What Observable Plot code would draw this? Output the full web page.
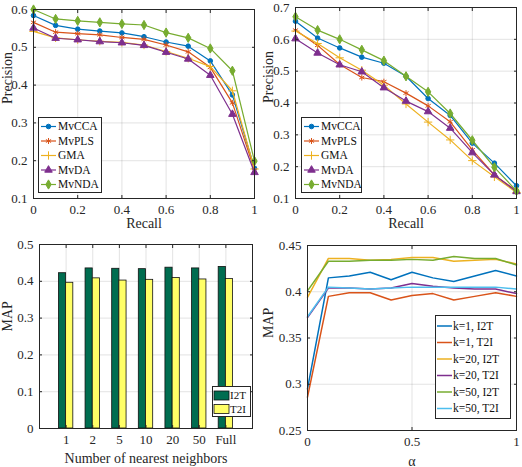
<!DOCTYPE html>
<html>
<head>
<meta charset="utf-8">
<script src="https://cdn.jsdelivr.net/npm/d3@7"></script>
<script src="https://cdn.jsdelivr.net/npm/@observablehq/plot@0.6"></script>
<style>
  body { margin: 0; background: #fff; }
  #fig { position: relative; width: 522px; height: 467px; font-family: "Liberation Serif"; }
  #fig > svg { position: absolute; overflow: visible; }
  #fig svg, #fig svg text { font-family: "Liberation Serif" !important; font-weight: normal; }
</style>
</head>
<body>
<div id="fig"></div>
<script>
// ---- Precision-recall curves ----
const recall = [0, 0.1, 0.2, 0.3, 0.4, 0.5, 0.6, 0.7, 0.8, 0.9, 1];
const methods = ["MvCCA", "MvPLS", "GMA", "MvDA", "MvNDA"];
const methodColors = ["#0072BD", "#D95319", "#EDB120", "#7E2F8E", "#77AC30"];
const methodSymbols = ["circle", "asterisk", "plus", "triangle", "diamond"];

const precA_MvCCA = [0.584, 0.558, 0.548, 0.543, 0.538, 0.528, 0.514, 0.503, 0.464, 0.374, 0.180];
const precA_MvPLS = [0.566, 0.540, 0.536, 0.533, 0.526, 0.521, 0.506, 0.488, 0.447, 0.353, 0.175];
const precA_GMA   = [0.542, 0.525, 0.520, 0.516, 0.513, 0.506, 0.489, 0.471, 0.449, 0.385, 0.178];
const precA_MvDA  = [0.551, 0.524, 0.520, 0.515, 0.512, 0.505, 0.487, 0.469, 0.426, 0.323, 0.169];
const precA_MvNDA = [0.600, 0.575, 0.570, 0.566, 0.562, 0.559, 0.539, 0.525, 0.497, 0.438, 0.199];

const precB_MvCCA = [0.657, 0.604, 0.573, 0.544, 0.525, 0.484, 0.414, 0.361, 0.274, 0.211, 0.140];
const precB_MvPLS = [0.629, 0.581, 0.521, 0.480, 0.467, 0.431, 0.391, 0.341, 0.253, 0.174, 0.124];
const precB_GMA   = [0.626, 0.587, 0.542, 0.503, 0.456, 0.397, 0.340, 0.284, 0.219, 0.168, 0.119];
const precB_MvDA  = [0.602, 0.557, 0.520, 0.498, 0.448, 0.406, 0.373, 0.321, 0.244, 0.174, 0.122];
const precB_MvNDA = [0.671, 0.629, 0.600, 0.567, 0.533, 0.484, 0.435, 0.367, 0.283, 0.198, 0.124];

// ---- MAP vs number of nearest neighbors ----
const neighborLabels = ["1", "2", "5", "10", "20", "50", "Full"];
const mapI2T = [0.422, 0.435, 0.434, 0.433, 0.437, 0.435, 0.439];
const mapT2I = [0.396, 0.408, 0.402, 0.404, 0.409, 0.405, 0.406];

// ---- MAP vs alpha ----
const alphas = [0, 0.1, 0.2, 0.3, 0.4, 0.5, 0.6, 0.7, 0.8, 0.9, 1];
const k1I2T  = [0.295, 0.415, 0.417, 0.421, 0.413, 0.421, 0.415, 0.411, 0.417, 0.423, 0.417];
const k1T2I  = [0.286, 0.395, 0.399, 0.399, 0.391, 0.396, 0.398, 0.391, 0.395, 0.399, 0.395];
const k20I2T = [0.394, 0.436, 0.436, 0.434, 0.435, 0.437, 0.437, 0.433, 0.434, 0.435, 0.430];
const k20T2I = [0.372, 0.404, 0.404, 0.403, 0.404, 0.409, 0.406, 0.404, 0.403, 0.403, 0.398];
const k50I2T = [0.401, 0.433, 0.433, 0.434, 0.434, 0.435, 0.434, 0.438, 0.436, 0.436, 0.429];
const k50T2I = [0.373, 0.405, 0.404, 0.403, 0.404, 0.405, 0.405, 0.405, 0.405, 0.405, 0.403];
const alphaSeries = ["k=1, I2T", "k=1, T2I", "k=20, I2T", "k=20, T2I", "k=50, I2T", "k=50, T2I"];
const alphaColors = ["#0072BD", "#D95319", "#EDB120", "#7E2F8E", "#77AC30", "#4DBEEE"];

const fig = document.getElementById("fig");
const FONT = "Liberation Serif";
const AXIS = "#262626";
const fmt = d => String(+(+d).toFixed(2));

const rows = (xs, ys, name) => xs.map((x, i) => ({x, y: ys[i], name}));

// One MATLAB-style axes box: inward ticks on all sides, light grid, frame.
function panel({left, top, width, height, margin, x, y, xTicks, yTicks, xFormat = fmt, yFormat = fmt,
                xLabel, yLabel, xLabelDy, yLabelDx, yLabelDy = 0, marks}) {
  const [mt, mr, mb, ml] = margin;
  const svg = Plot.plot({
    width, height,
    marginTop: mt, marginRight: mr, marginBottom: mb, marginLeft: ml,
    x, y,
    style: {fontFamily: FONT, fontSize: "13px", color: AXIS, background: "transparent", overflow: "visible"},
    marks: [
      Plot.gridX(xTicks, {stroke: AXIS, strokeOpacity: 0.13}),
      Plot.gridY(yTicks, {stroke: AXIS, strokeOpacity: 0.13}),
      ...marks,
      Plot.axisX(xTicks, {anchor: "bottom", tickSize: -3, tickPadding: 9, tickFormat: xFormat, label: null}),
      Plot.axisX(xTicks, {anchor: "top", tickSize: -3, tickFormat: () => "", label: null}),
      Plot.axisY(yTicks, {anchor: "left", tickSize: -3, tickPadding: 9, tickFormat: yFormat, label: null}),
      Plot.axisY(yTicks, {anchor: "right", tickSize: -3, tickFormat: () => "", label: null}),
      Plot.frame({stroke: AXIS, strokeWidth: 1}),
      Plot.text([xLabel], {frameAnchor: "bottom", dy: xLabelDy, lineAnchor: "bottom", fontSize: 14, fill: AXIS}),
      Plot.text([yLabel], {frameAnchor: "left", dx: yLabelDx, dy: yLabelDy, rotate: -90, fontSize: 14, fill: AXIS})
    ]
  });
  svg.style.left = left + "px";
  svg.style.top = top + "px";
  fig.appendChild(svg);
}

function prMarks(series) {
  const marks = [];
  series.forEach((vals, k) => {
    const data = rows(recall, vals, methods[k]);
    const sym = methodSymbols[k];
    const filled = sym === "circle" || sym === "triangle" || sym === "diamond";
    marks.push(Plot.line(data, {x: "x", y: "y", stroke: methodColors[k], strokeWidth: 1.2}));
    marks.push(Plot.dot(data, {x: "x", y: "y", symbol: () => sym, r: sym === "circle" ? 2.3 : 2.8,
      stroke: methodColors[k], fill: filled ? methodColors[k] : "none", strokeWidth: 1}));
  });
  return marks;
}

// Top-left precision-recall panel
panel({
  left: 0, top: 0, width: 261, height: 230, margin: [9, 7, 32, 33],
  x: {domain: [0, 1]}, y: {domain: [0.1, 0.6]},
  xTicks: [0, 0.2, 0.4, 0.6, 0.8, 1], yTicks: [0.1, 0.2, 0.3, 0.4, 0.5, 0.6],
  xLabel: "Recall", yLabel: "Precision", xLabelDy: 29, yLabelDx: -25.5,
  marks: prMarks([precA_MvCCA, precA_MvPLS, precA_GMA, precA_MvDA, precA_MvNDA])
});

// Top-right precision-recall panel
panel({
  left: 261, top: 0, width: 261, height: 230, margin: [7, 6, 32, 34],
  x: {domain: [0, 1]}, y: {domain: [0.1, 0.7]},
  xTicks: [0, 0.2, 0.4, 0.6, 0.8, 1], yTicks: [0.1, 0.2, 0.3, 0.4, 0.5, 0.6, 0.7],
  xLabel: "Recall", yLabel: "Precision", xLabelDy: 29, yLabelDx: -26.5,
  marks: prMarks([precB_MvCCA, precB_MvPLS, precB_GMA, precB_MvDA, precB_MvNDA])
});

// Bottom-left grouped bars
const barW = 0.27;
const neighborTable = neighborLabels.map((label, i) => ({pos: i + 1, label, i2t: mapI2T[i], t2i: mapT2I[i]}));
panel({
  left: 0, top: 230, width: 261, height: 237, margin: [14, 9, 39, 39],
  x: {domain: [0, 8]}, y: {domain: [0, 0.5]},
  xTicks: [1, 2, 3, 4, 5, 6, 7], yTicks: [0, 0.1, 0.2, 0.3, 0.4, 0.5],
  xFormat: d => neighborLabels[d - 1],
  xLabel: "Number of nearest neighbors", yLabel: "MAP", xLabelDy: 34, yLabelDx: -32, yLabelDy: -5,
  marks: [
    Plot.rectY(neighborTable, {x1: d => d.pos - barW, x2: d => d.pos, y1: 0, y2: "i2t", fill: "#006d50", stroke: "#111", strokeWidth: 0.8}),
    Plot.rectY(neighborTable, {x1: d => d.pos, x2: d => d.pos + barW, y1: 0, y2: "t2i", fill: "#ffff66", stroke: "#111", strokeWidth: 0.8})
  ]
});

// Bottom-right MAP vs alpha
const alphaValues = [k1I2T, k1T2I, k20I2T, k20T2I, k50I2T, k50T2I];
panel({
  left: 261, top: 230, width: 261, height: 237, margin: [15, 6, 37, 46],
  x: {domain: [0, 1]}, y: {domain: [0.25, 0.45]},
  xTicks: [0, 0.5, 1], yTicks: [0.25, 0.3, 0.35, 0.4, 0.45],
  xLabel: "α", yLabel: "MAP", xLabelDy: 35, yLabelDx: -38.5,
  marks: alphaValues.map((vals, k) =>
    Plot.line(rows(alphas, vals, alphaSeries[k]), {x: "x", y: "y", stroke: alphaColors[k], strokeWidth: 1.5}))
});

// ---- Legends (drawn as boxed overlays) ----
function legendBox({left, top, width, height, items, rowTop, rowStep, swatch, textX, fontSize = 11.5}) {
  const svg = d3.create("svg")
    .attr("width", width).attr("height", height)
    .style("left", left + "px").style("top", top + "px")
    .style("font-family", FONT).style("font-size", fontSize + "px");
  svg.append("rect").attr("x", 0.5).attr("y", 0.5).attr("width", width - 1).attr("height", height - 1)
    .attr("fill", "#fff").attr("stroke", AXIS).attr("stroke-width", 1);
  items.forEach((it, i) => {
    const cy = rowTop + i * rowStep;
    const g = svg.append("g");
    swatch(g, it, cy);
    g.append("text").attr("x", textX).attr("y", cy).attr("dy", "0.33em").attr("fill", "#111").text(it.label);
  });
  fig.appendChild(svg.node());
}

const symbolTypes = {circle: d3.symbolCircle, asterisk: d3.symbolAsterisk, plus: d3.symbolPlus,
                     triangle: d3.symbolTriangle, diamond: d3.symbolDiamond};
const methodItems = methods.map((m, k) => ({label: m, color: methodColors[k], symbol: methodSymbols[k]}));
const lineMarkerSwatch = (g, it, cy) => {
  g.append("line").attr("x1", 3).attr("x2", 18).attr("y1", cy).attr("y2", cy)
    .attr("stroke", it.color).attr("stroke-width", 1.2);
  const filled = it.symbol === "circle" || it.symbol === "triangle" || it.symbol === "diamond";
  const r = it.symbol === "circle" ? 2.3 : 2.8;
  g.append("path").attr("transform", `translate(10.5,${cy})`)
    .attr("d", d3.symbol(symbolTypes[it.symbol], Math.PI * r * r)())
    .attr("fill", filled ? it.color : "none").attr("stroke", it.color).attr("stroke-width", 1);
};

legendBox({left: 38, top: 117, width: 64, height: 76, items: methodItems,
  rowTop: 9.5, rowStep: 14.5, swatch: lineMarkerSwatch, textX: 20});
legendBox({left: 301, top: 117, width: 61, height: 76, items: methodItems,
  rowTop: 9.5, rowStep: 14.5, swatch: lineMarkerSwatch, textX: 20});

legendBox({left: 212, top: 386, width: 39, height: 31,
  items: [{label: "I2T", color: "#006d50"}, {label: "T2I", color: "#ffff66"}],
  rowTop: 9.5, rowStep: 13.5, textX: 18, fontSize: 11,
  swatch: (g, it, cy) => g.append("rect").attr("x", 2).attr("y", cy - 4.5).attr("width", 15).attr("height", 9)
    .attr("fill", it.color).attr("stroke", "#111").attr("stroke-width", 0.8)});

legendBox({left: 435, top: 315, width: 76, height: 104,
  items: alphaSeries.map((s, k) => ({label: s, color: alphaColors[k]})),
  rowTop: 11, rowStep: 16.5, textX: 18, fontSize: 11.5,
  swatch: (g, it, cy) => g.append("line").attr("x1", 2).attr("x2", 17).attr("y1", cy).attr("y2", cy)
    .attr("stroke", it.color).attr("stroke-width", 1.5)});
</script>
</body>
</html>
